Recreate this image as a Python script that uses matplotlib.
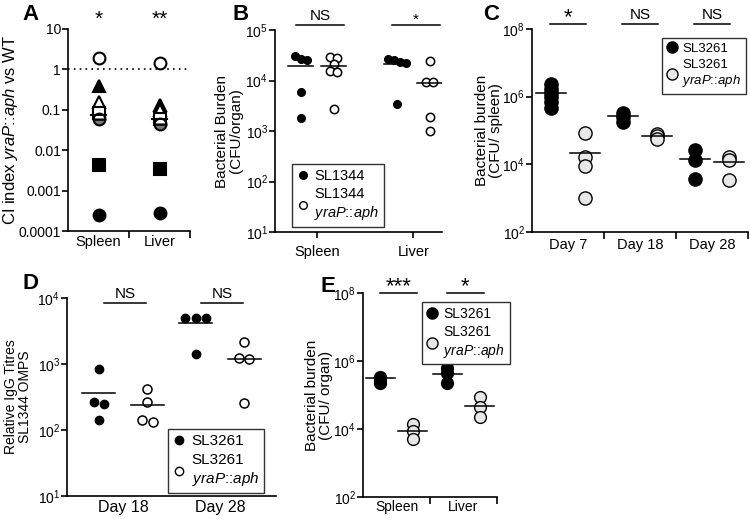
import numpy as np
import matplotlib
matplotlib.use("Agg")
import matplotlib.pyplot as plt
from matplotlib.ticker import FixedLocator, FuncFormatter, NullLocator, NullFormatter

plt.rcParams['font.family'] = ['Liberation Sans', 'DejaVu Sans']
plt.rcParams['mathtext.fontset'] = 'custom'
plt.rcParams['mathtext.rm'] = 'Liberation Sans'
plt.rcParams['mathtext.it'] = 'Liberation Sans:italic'
plt.rcParams['mathtext.bf'] = 'Liberation Sans:bold'
plt.rcParams['axes.linewidth'] = 1.2

W, H = 750, 519
MUT = '$\\mathit{yraP}$::$\\mathit{aph}$'

# ---- panel A: CI index (one value per experiment / symbol) ----
a_groups = ['Spleen', 'Liver']
a_spleen = [0.00025, 0.0043, 0.38, 1.9, 0.16, 0.085, 0.06]
a_liver = [0.00028, 0.0034, 0.13, 1.4, 0.10, 0.058, 0.045]
a_median = [0.075, 0.06]
a_stars = ['*', '**']

# ---- panel B: SL1344 burden ----
b_groups = ['Spleen', 'Liver']
b_wt = [[3.0e4, 2.5e4, 2.7e4, 5.8e3, 1.85e3],
        [2.7e4, 2.5e4, 2.3e4, 2.2e4, 3.5e3]]
b_mut = [[2.9e4, 2.8e4, 2.1e4, 1.55e4, 1.5e4, 2.7e3],
         [2.4e4, 9.5e3, 9.5e3, 1.9e3, 1.0e3]]
b_wt_med = [1.9e4, 2.1e4]
b_mut_med = [1.9e4, 9e3]
b_sig = ['NS', '*']

# ---- panel C: SL3261 spleen burden over time ----
c_groups = ['Day 7', 'Day 18', 'Day 28']
c_wt = [[2.3e6, 1.7e6, 1.3e6, 1.0e6, 7e5, 4.5e5],
        [3.2e5, 2.5e5, 1.8e5],
        [2.6e4, 1.3e4, 3.8e3]]
c_mut = [[8.5e4, 1.6e4, 9e3, 1e3],
         [8e4, 6.8e4, 5.5e4],
         [1.7e4, 1.3e4, 3.5e3]]
c_wt_med = [1.3e6, 2.6e5, 1.4e4]
c_mut_med = [2.1e4, 6.7e4, 1.15e4]
c_sig = ['*', 'NS', 'NS']

# ---- panel D: IgG titres ----
d_groups = ['Day 18', 'Day 28']
d_wt = [[840, 265, 250, 140], [5000, 4900, 5000, 1400]]
d_mut = [[420, 265, 140, 130], [2150, 1250, 1200, 260]]
d_wt_med = [365, 4200]
d_mut_med = [240, 1200]
d_sig = ['NS', 'NS']

# ---- panel E: SL3261 organ burden ----
e_groups = ['Spleen', 'Liver']
e_wt = [[3.4e5, 2.8e5, 2.3e5], [6.2e5, 4.4e5, 2.3e5]]
e_mut = [[1.4e4, 8.7e3, 5e3], [8.7e4, 4.4e4, 2.2e4]]
e_wt_med = [3.2e5, 4.2e5]
e_mut_med = [9e3, 4.7e4]
e_sig = ['***', '*']


def px_axes(fig, x0, x1, y0, y1):
    return fig.add_axes([x0 / W, 1 - y1 / H, (x1 - x0) / W, (y1 - y0) / H])


def swarm(vals, step, thr):
    v = np.log10(vals)
    offs = np.zeros(len(v))
    groups = []
    for i in np.argsort(-v):
        if groups and abs(v[groups[-1][-1]] - v[i]) < thr:
            groups[-1].append(i)
        else:
            groups.append([i])
    for g in groups:
        for k, i in enumerate(g):
            offs[i] = (k - (len(g) - 1) / 2) * step
    return offs


def style(ax, ylabel, labx, fs=11):
    ax.spines['top'].set_visible(False)
    ax.spines['right'].set_visible(False)
    ax.set_yscale('log')
    ax.yaxis.set_minor_locator(NullLocator())
    ax.tick_params(axis='y', labelsize=10, length=4, width=1.2, pad=1)
    ax.set_ylabel(ylabel, fontsize=fs, linespacing=1.0)
    ax.yaxis.set_label_coords(labx, 0.5)


def between_ticks(ax, labels, pad=5, fs=10.5):
    n = len(labels)
    ax.set_xlim(-0.5, n - 0.5)
    ax.xaxis.set_major_locator(FixedLocator(np.arange(n) + 0.5))
    ax.xaxis.set_major_formatter(NullFormatter())
    ax.xaxis.set_minor_locator(FixedLocator(np.arange(n)))
    ax.set_xticklabels(labels, minor=True, fontsize=fs)
    ax.tick_params(axis='x', which='major', length=5, width=1.2)
    ax.tick_params(axis='x', which='minor', length=0, pad=pad)


def sig(ax, x, y, txt, fs=11, line=True, half=0.25):
    if line:
        ax.plot([x - half, x + half], [y, y], color='black', lw=1.1,
                transform=ax.get_xaxis_transform(), clip_on=False)
    if '*' in txt:
        ax.text(x, y + 0.004, txt, ha='center', va='baseline', fontsize=fs,
                transform=ax.get_xaxis_transform())
    else:
        ax.text(x, y + 0.008, txt, ha='center', va='bottom', fontsize=fs,
                transform=ax.get_xaxis_transform())


def legend(ax, mfc, label, ms, anchor, loc, fs):
    h1, = ax.plot([], [], 'o', color='black', ms=ms)
    h2, = ax.plot([], [], 'o', mfc=mfc, mec='black', mew=1.0, ms=ms)
    lg = ax.legend([h1, h2], [label, label + '\n' + MUT], loc=loc,
                   bbox_to_anchor=anchor, borderaxespad=0, fontsize=fs,
                   frameon=True, fancybox=False, framealpha=1,
                   edgecolor='#333333', handlelength=0.8, handletextpad=0.4,
                   borderpad=0.35, labelspacing=0.3)
    lg.get_frame().set_linewidth(1.0)


fig = plt.figure(figsize=(W / 100, H / 100), dpi=100)

# ================= A =================
ax = px_axes(fig, 68, 190, 29, 231)
style(ax, 'CI index ' + MUT + ' vs WT', -0.39, fs=12)
ax.set_ylim(1e-4, 10)
ax.yaxis.set_major_locator(FixedLocator([1e-4, 1e-3, 1e-2, 0.1, 1, 10]))
ax.yaxis.set_major_formatter(FuncFormatter(lambda v, p: '%g' % v))
between_ticks(ax, a_groups, pad=3)
a_styles = [dict(marker='o', mfc='black'), dict(marker='s', mfc='black'),
            dict(marker='^', mfc='black'), dict(marker='o', mfc='white'),
            dict(marker='^', mfc='white'), dict(marker='s', mfc='white'),
            dict(marker='o', mfc='#777777', fillstyle='bottom',
                 markerfacecoloralt='white')]
ax.axhline(1, color='black', lw=1.2, ls=(0, (1, 2.5)))
for gi, vals in enumerate([a_spleen, a_liver]):
    for v, st in zip(vals, a_styles):
        ax.plot([gi], [v], ls='none', mec='black', mew=1.5, ms=8.5, **st)
    ax.plot([gi - 0.13, gi + 0.13], [a_median[gi]] * 2, color='black', lw=1.5)
    sig(ax, gi, 1.015, a_stars[gi], fs=15, line=False)

# ================= B =================
ax = px_axes(fig, 275, 442, 30, 232)
style(ax, 'Bacterial Burden\n(CFU/organ)', -0.19)
ax.set_ylim(10, 1e5)
ax.set_xlim(-0.44, 1.3)
ax.set_xticks(range(len(b_groups)))
ax.set_xticklabels(b_groups, fontsize=10.5)
ax.tick_params(axis='x', length=4, width=1.2, pad=5)
for gi in range(len(b_groups)):
    xw, xm = gi - 0.17, gi + 0.17
    ax.plot(xw + swarm(b_wt[gi], 0.06, 0.12), b_wt[gi], 'o', color='black', ms=5.5)
    ax.plot(xm + swarm(b_mut[gi], 0.08, 0.12), b_mut[gi], 'o', mfc='white',
            mec='black', mew=1.1, ms=6)
    ax.plot([xw - 0.13, xw + 0.13], [b_wt_med[gi]] * 2, color='black', lw=1.1)
    ax.plot([xm - 0.13, xm + 0.13], [b_mut_med[gi]] * 2, color='black', lw=1.1)
    sig(ax, gi + 0.03, 1.025, b_sig[gi], fs=11 if b_sig[gi] == 'NS' else 11)
legend(ax, 'white', 'SL1344', 5.5, (0.1, 0.025), 'lower left', 10.5)

# ================= C =================
ax = px_axes(fig, 532, 748, 29, 232)
style(ax, 'Bacterial burden\n(CFU/ spleen)', -0.134)
ax.set_ylim(1e2, 1e8)
ax.yaxis.set_major_locator(FixedLocator([1e2, 1e4, 1e6, 1e8]))
between_ticks(ax, c_groups, pad=4)
for gi in range(len(c_groups)):
    xw, xm = gi - 0.24, gi + 0.24
    ax.plot([xw] * len(c_wt[gi]), c_wt[gi], 'o', color='black', ms=9.5)
    ax.plot([xm] * len(c_mut[gi]), c_mut[gi], 'o', mfc='#e8e8e8', mec='black',
            mew=1.0, ms=9.5)
    ax.plot([xw - 0.21, xw + 0.21], [c_wt_med[gi]] * 2, color='black', lw=1.1)
    ax.plot([xm - 0.21, xm + 0.21], [c_mut_med[gi]] * 2, color='black', lw=1.1)
    sig(ax, gi, 1.025, c_sig[gi], fs=16 if c_sig[gi] == '*' else 11)
legend(ax, '#e8e8e8', 'SL3261', 8, (0.99, 0.956), 'upper right', 9.5)

# ================= D =================
ax = px_axes(fig, 67, 276, 298, 496)
style(ax, 'Relative IgG Titres\nSL1344 OMPS', -0.167, fs=10)
ax.set_ylim(10, 1e4)
ax.set_xlim(-0.58, 1.58)
ax.set_xticks(range(len(d_groups)))
ax.set_xticklabels(d_groups, fontsize=11.5)
ax.tick_params(axis='x', length=0, pad=3)
for gi in range(len(d_groups)):
    xw, xm = gi - 0.25, gi + 0.25
    ax.plot(xw + swarm(d_wt[gi], 0.11, 0.12), d_wt[gi], 'o', color='black', ms=6)
    ax.plot(xm + swarm(d_mut[gi], 0.11, 0.12), d_mut[gi], 'o', mfc='white',
            mec='black', mew=1.1, ms=6.5)
    ax.plot([xw - 0.17, xw + 0.17], [d_wt_med[gi]] * 2, color='black', lw=1.1)
    ax.plot([xm - 0.17, xm + 0.17], [d_mut_med[gi]] * 2, color='black', lw=1.1)
    sig(ax, gi + 0.02, 0.975, d_sig[gi], fs=11, half=0.22)
legend(ax, 'white', 'SL3261', 6, (0.483, 0.015), 'lower left', 11)

# ================= E =================
ax = px_axes(fig, 363, 497, 293, 497)
style(ax, 'Bacterial burden\n(CFU/ organ)', -0.224)
ax.set_ylim(1e2, 1e8)
ax.yaxis.set_major_locator(FixedLocator([1e2, 1e4, 1e6, 1e8]))
between_ticks(ax, e_groups, pad=2, fs=10)
for gi in range(len(e_groups)):
    xw, xm = gi - 0.24, gi + 0.24
    ax.plot([xw] * len(e_wt[gi]), e_wt[gi], 'o', color='black', ms=8.5)
    ax.plot([xm] * len(e_mut[gi]), e_mut[gi], 'o', mfc='#e8e8e8', mec='black',
            mew=1.0, ms=8.5)
    ax.plot([xw - 0.22, xw + 0.22], [e_wt_med[gi]] * 2, color='black', lw=1.1)
    ax.plot([xm - 0.22, xm + 0.22], [e_mut_med[gi]] * 2, color='black', lw=1.1)
    sig(ax, gi + 0.03, 1.0, e_sig[gi], fs=16, half=0.27)
legend(ax, '#e8e8e8', 'SL3261', 8, (0.44, 0.956), 'upper left', 10)

# panel letters
for lab, x, y in [('A', 22, 4), ('B', 232, 4), ('C', 483, 4),
                  ('D', 22, 273), ('E', 320, 276)]:
    fig.text(x / W, 1 - y / H, lab, fontsize=16, fontweight='bold',
             ha='left', va='top')

fig.savefig('out.png', dpi=100)
